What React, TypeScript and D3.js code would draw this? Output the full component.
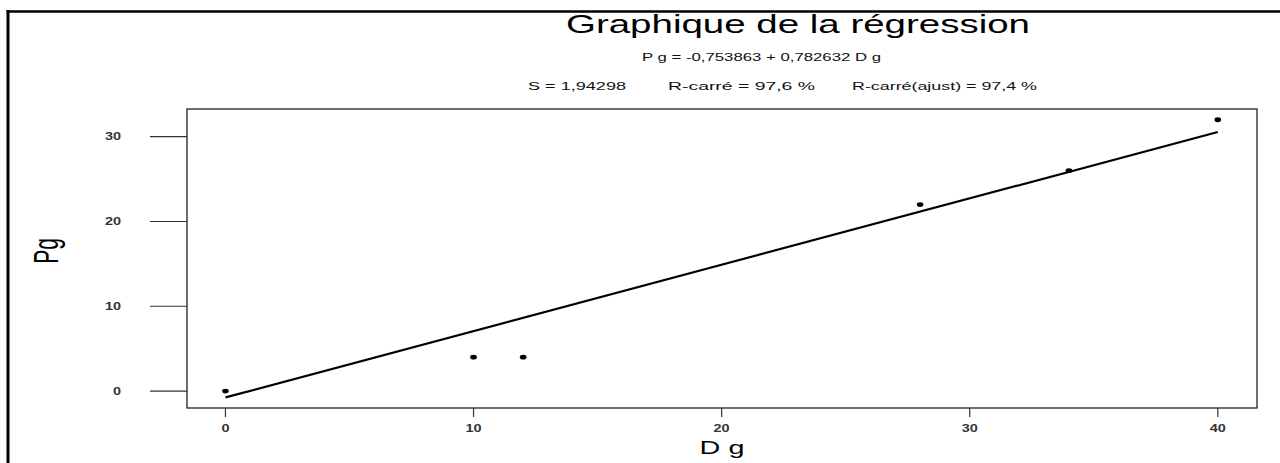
import React from "react";
import * as d3 from "d3";

const dgValues = [0, 10, 12, 28, 34, 40];
const pgValues = [0, 4, 4, 22, 26, 32];
const xTicks = [0, 10, 20, 30, 40];
const yTicks = [0, 10, 20, 30];
const intercept = -0.753863;
const slope = 0.782632;

const titleText = "Graphique de la régression";
const equationText = "P g = -0,753863 + 0,782632 D g";
const statTexts = ["S = 1,94298", "R-carré = 97,6 %", "R-carré(ajust) = 97,4 %"];

const W = 1280;
const H = 463;
const FONT = "'Liberation Sans', Arial, sans-serif";

export default function App() {
  const frame = { left: 187, right: 1257, top: 109, bottom: 408 };
  const x = d3.scaleLinear().domain([-1.55, 41.58]).range([frame.left, frame.right]);
  const y = d3.scaleLinear().domain([-2.0, 33.27]).range([frame.bottom, frame.top]);
  const lineGen = d3
    .line<number>()
    .x((d) => x(d))
    .y((d) => y(intercept + slope * d));
  const fitPath = lineGen([0, 40]) || "";

  const statPos = [
    { x: 528, w: 98 },
    { x: 668, w: 147 },
    { x: 852, w: 185 },
  ];

  return (
    <svg
      width={W}
      height={H}
      style={{ position: "absolute", left: 0, top: 0, background: "#fff" }}
      fontFamily={FONT}
    >
      <rect x={0} y={0} width={W} height={H} fill="#fff" />
      {/* outer border */}
      <line x1={8} y1={10} x2={8} y2={H} stroke="#000" strokeWidth={3} />
      <line x1={6.5} y1={11.5} x2={W} y2={11.5} stroke="#000" strokeWidth={2.5} />

      {/* titles */}
      <text x={566} y={33} fontSize={25} textLength={464} lengthAdjust="spacingAndGlyphs" fill="#000">
        {titleText}
      </text>
      <text x={642} y={61} fontSize={11.5} textLength={239} lengthAdjust="spacingAndGlyphs" fill="#111">
        {equationText}
      </text>
      {statTexts.map((t, i) => (
        <text
          key={t}
          x={statPos[i].x}
          y={90}
          fontSize={11.5}
          textLength={statPos[i].w}
          lengthAdjust="spacingAndGlyphs"
          fill="#111"
        >
          {t}
        </text>
      ))}

      {/* frame */}
      <rect
        x={frame.left}
        y={frame.top}
        width={frame.right - frame.left}
        height={frame.bottom - frame.top}
        fill="none"
        stroke="#222"
        strokeWidth={1.3}
      />

      {/* y ticks */}
      {yTicks.map((t) => (
        <g key={"y" + t}>
          <line x1={150} x2={frame.left} y1={y(t)} y2={y(t)} stroke="#333" strokeWidth={1.2} />
          <text
            x={121}
            y={y(t) + 3.5}
            fontSize={10}
            fontWeight={700}
            textAnchor="end"
            transform={`translate(121,0) scale(1.45,1) translate(-121,0)`}
            fill="#333"
          >
            {t}
          </text>
        </g>
      ))}

      {/* x ticks */}
      {xTicks.map((t) => (
        <g key={"x" + t}>
          <line x1={x(t)} x2={x(t)} y1={frame.bottom} y2={frame.bottom + 9} stroke="#333" strokeWidth={1.2} />
          <text
            x={x(t)}
            y={432}
            fontSize={10}
            fontWeight={700}
            textAnchor="middle"
            transform={`translate(${x(t)},0) scale(1.45,1) translate(${-x(t)},0)`}
            fill="#333"
          >
            {t}
          </text>
        </g>
      ))}

      {/* axis labels */}
      <text
        x={0}
        y={0}
        fontSize={18}
        textAnchor="middle"
        transform={`translate(722,454) scale(1.6,1)`}
        fill="#000"
      >
        D g
      </text>
      <text
        x={0}
        y={0}
        fontSize={21}
        textAnchor="middle"
        transform={`translate(58,251) scale(1.65,1) rotate(-90)`}
        fill="#000"
      >
        Pg
      </text>

      {/* fitted line */}
      <path d={fitPath} fill="none" stroke="#000" strokeWidth={2.2} />

      {/* points */}
      {dgValues.map((d, i) => (
        <ellipse key={"p" + i} cx={x(d)} cy={y(pgValues[i])} rx={3.3} ry={2.4} fill="#000" />
      ))}
    </svg>
  );
}
